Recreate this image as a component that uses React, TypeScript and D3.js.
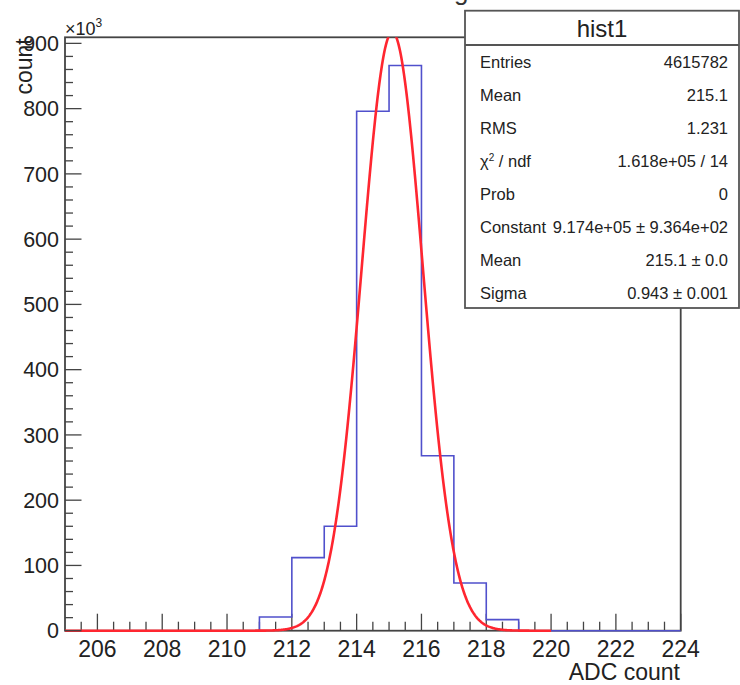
import React from "react";
import * as d3 from "d3";

// ---- data ----
const binEdgesStart = 205;
const binWidth = 1;
const binCounts = [0, 0, 0, 0, 0, 0, 21, 112, 160, 796, 866, 268, 73, 17, 0, 0, 0, 0, 0]; // x10^3, bins 205..224
const fitConstant = 917.4; // x10^3
const fitMean = 215.1;
const fitSigma = 0.943;
const fitRange = [205, 220];
const xTicksMajor = [206, 208, 210, 212, 214, 216, 218, 220, 222, 224];
const yTicksMajor = [0, 100, 200, 300, 400, 500, 600, 700, 800, 900];
const statLabels = ["Entries", "Mean", "RMS", "χ2 / ndf", "Prob", "Constant", "Mean", "Sigma"];
const statValues = ["4615782", "215.1", "1.231", "1.618e+05 / 14", "0", "9.174e+05 ± 9.364e+02", "215.1 ± 0.0", "0.943 ± 0.001"];
const histName = "hist1";
const title = "Pedestal running";

const W = 740, H = 685;
const L = 65, R = 680.7, T = 37.3, B = 630.7;
const FONT = "'Liberation Sans', Arial, Helvetica, sans-serif";

export default function App() {
  const x = d3.scaleLinear().domain([205, 224]).range([L, R]);
  const yMax = d3.max(binCounts)! * 1.05;
  const y = d3.scaleLinear().domain([0, yMax]).range([B, T]);

  // histogram step path
  const pts: [number, number][] = [];
  binCounts.forEach((v, i) => {
    const x0 = binEdgesStart + i * binWidth;
    pts.push([x0, v]);
    pts.push([x0 + binWidth, v]);
  });
  const histPath = d3.line<[number, number]>().x(d => x(d[0])).y(d => y(d[1]))(pts) || "";

  const gaus = (t: number) => fitConstant * Math.exp(-0.5 * ((t - fitMean) / fitSigma) ** 2);
  const fitPts: [number, number][] = d3.range(fitRange[0], fitRange[1] + 0.0001, 0.02).map(t => [t, gaus(t)]);
  const fitPath = d3.line<[number, number]>().x(d => x(d[0])).y(d => y(d[1])).curve(d3.curveLinear)(fitPts) || "";

  const xMinor = d3.range(205.5, 224.01, 0.5).filter(t => !xTicksMajor.includes(t));
  const yMinor = d3.range(0, yMax, 20).filter(t => !yTicksMajor.includes(t));

  const boxL = 465, boxT = 10.7, boxR = 739, boxB = 308, boxSep = 45;
  const rowY0 = 61.7, rowDy = 33;

  return (
    <svg width={W} height={H} style={{ position: "absolute", left: 0, top: 0, background: "#fff" }} fontFamily={FONT}>
      <rect x={0} y={0} width={W} height={H} fill="#fff" />
      {/* title (mostly clipped by the top edge) */}
      <text x={371} y={0.3} textAnchor="middle" fontSize={26} fill="#333">{title}</text>

      <defs>
        <clipPath id="frameClip">
          <rect x={L} y={T} width={R - L} height={B - T + 1.5} />
        </clipPath>
      </defs>

      {/* frame */}
      <rect x={L} y={T} width={R - L} height={B - T} fill="none" stroke="#444" strokeWidth={1.8} />

      {/* x ticks */}
      {xTicksMajor.map(t => (
        <line key={"xM" + t} x1={x(t)} x2={x(t)} y1={B} y2={B - 17} stroke="#444" strokeWidth={1.3} />
      ))}
      {xMinor.map(t => (
        <line key={"xm" + t} x1={x(t)} x2={x(t)} y1={B} y2={B - 9} stroke="#444" strokeWidth={1.3} />
      ))}

      {/* data */}
      <g clipPath="url(#frameClip)">
        <path d={histPath} fill="none" stroke="#5050cc" strokeWidth={1.6} />
        <path d={fitPath} fill="none" stroke="#ff2630" strokeWidth={2.6} />
      </g>

      {xTicksMajor.map(t => (
        <text key={"xl" + t} x={x(t)} y={656.5} textAnchor="middle" fontSize={23} fill="#222">{t}</text>
      ))}
      <text x={680} y={680} textAnchor="end" fontSize={23} fill="#222">ADC count</text>

      {/* y ticks */}
      {yTicksMajor.map(t => (
        <line key={"yM" + t} x1={L} x2={L + 16.5} y1={y(t)} y2={y(t)} stroke="#444" strokeWidth={1.3} />
      ))}
      {yMinor.map(t => (
        <line key={"ym" + t} x1={L} x2={L + 8} y1={y(t)} y2={y(t)} stroke="#444" strokeWidth={1.3} />
      ))}
      {yTicksMajor.map(t => (
        <text key={"yl" + t} x={59} y={y(t)} dy="0.36em" textAnchor="end" fontSize={21.5} fill="#222">{t}</text>
      ))}
      <text x={65} y={35} fontSize={18} fill="#222">×10<tspan dy={-8} fontSize={12}>3</tspan></text>
      <text transform={`translate(32,${T + 1}) rotate(-90)`} textAnchor="end" fontSize={23} fill="#222">count</text>

      {/* stats box */}
      <rect x={boxL} y={boxT} width={boxR - boxL} height={boxB - boxT} fill="#fff" stroke="#555" strokeWidth={1.8} />
      <line x1={boxL} x2={boxR} y1={boxSep} y2={boxSep} stroke="#555" strokeWidth={1.8} />
      <text x={(boxL + boxR) / 2} y={37} textAnchor="middle" fontSize={24} fill="#222">{histName}</text>
      {statLabels.map((lab, i) => (
        <text key={"sl" + i} x={480} y={rowY0 + i * rowDy} dy="0.36em" fontSize={16.5} fill="#222">
          {lab === "χ2 / ndf" ? (<>χ<tspan dy={-6} fontSize={10}>2</tspan><tspan dy={6}> / ndf</tspan></>) : lab}
        </text>
      ))}
      {statValues.map((v, i) => (
        <text key={"sv" + i} x={728} y={rowY0 + i * rowDy} dy="0.36em" textAnchor="end" fontSize={16.5} fill="#222">{v}</text>
      ))}
    </svg>
  );
}
